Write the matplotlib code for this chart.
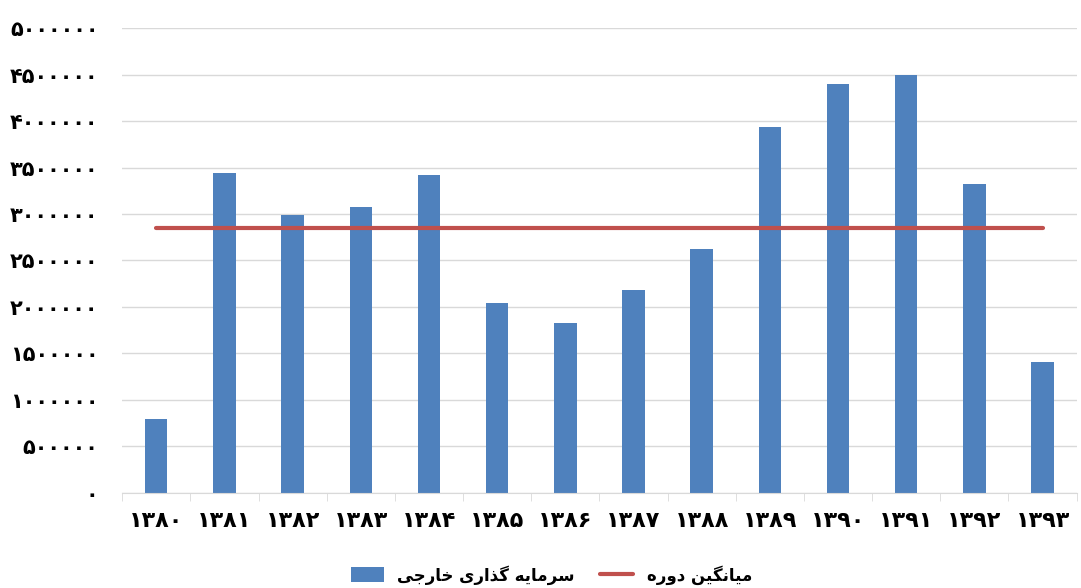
import matplotlib
matplotlib.use("Agg")
import matplotlib.pyplot as plt
import numpy as np
from matplotlib.ticker import FixedLocator, FuncFormatter

years = [1380, 1381, 1382, 1383, 1384, 1385, 1386,
         1387, 1388, 1389, 1390, 1391, 1392, 1393]
investment = [796000, 3441000, 2989000, 3080000, 3419000, 2043000, 1828000,
              2180000, 2624000, 3940000, 4395000, 4495000, 3327000, 1409000]
y_ticks = [0, 500000, 1000000, 1500000, 2000000, 2500000,
           3000000, 3500000, 4000000, 4500000, 5000000]
bar_label = "سرمایه گذاری خارجی"
mean_label = "میانگین دوره"

BAR_COLOR = "#4F81BD"
MEAN_COLOR = "#C0504D"
GRID_COLOR = "#D9D9D9"

FA_DIGITS = str.maketrans("0123456789", "۰۱۲۳۴۵۶۷۸۹")

# presentation forms: (isolated, final, initial, medial); None = no left join
FORMS = {
    "ا": ("\uFE8D", "\uFE8E", None, None),
    "ج": ("\uFE9D", "\uFE9E", "\uFE9F", "\uFEA0"),
    "خ": ("\uFEA5", "\uFEA6", "\uFEA7", "\uFEA8"),
    "د": ("\uFEA9", "\uFEAA", None, None),
    "ذ": ("\uFEAB", "\uFEAC", None, None),
    "ر": ("\uFEAD", "\uFEAE", None, None),
    "س": ("\uFEB1", "\uFEB2", "\uFEB3", "\uFEB4"),
    "گ": ("\uFB92", "\uFB93", "\uFB94", "\uFB95"),
    "م": ("\uFEE1", "\uFEE2", "\uFEE3", "\uFEE4"),
    "ن": ("\uFEE5", "\uFEE6", "\uFEE7", "\uFEE8"),
    "ه": ("\uFEE9", "\uFEEA", "\uFEEB", "\uFEEC"),
    "و": ("\uFEED", "\uFEEE", None, None),
    "ی": ("\uFBFC", "\uFBFD", "\uFBFE", "\uFBFF"),
}


def shape_fa(text):
    """Join Persian letters and put them in visual (right-to-left) order."""
    out = []
    for i, ch in enumerate(text):
        if ch not in FORMS:
            out.append(ch)
            continue
        prev = text[i - 1] if i > 0 else ""
        nxt = text[i + 1] if i + 1 < len(text) else ""
        joins_prev = prev in FORMS and FORMS[prev][2] is not None
        joins_next = nxt in FORMS and FORMS[ch][2] is not None
        isol, fin, init, med = FORMS[ch]
        if joins_prev and joins_next:
            out.append(med)
        elif joins_prev:
            out.append(fin)
        elif joins_next:
            out.append(init)
        else:
            out.append(isol)
    return "".join(reversed(out))


def fa_num(v):
    return str(int(v)).translate(FA_DIGITS)


plt.rcParams["font.family"] = ["DejaVu Sans"]
plt.rcParams["font.weight"] = "bold"

x = np.arange(len(years))
period_mean = np.mean(investment)

fig = plt.figure(figsize=(10.81, 5.88), dpi=100)
ax = fig.add_axes([0.113, 0.162, 0.883, 0.79])

bars = ax.bar(x, investment, width=0.33, color=BAR_COLOR, zorder=2)
mean_line, = ax.plot([x[0], x[-1]], [period_mean, period_mean],
                     color=MEAN_COLOR, lw=3, solid_capstyle="round", zorder=3)

ax.set_xlim(-0.5, len(years) - 0.5)
ax.set_ylim(0, 5000000)
ax.set_yticks(y_ticks)
ax.yaxis.set_major_formatter(FuncFormatter(lambda v, _: fa_num(v)))
ax.set_xticks(x)
ax.set_xticklabels([fa_num(y) for y in years])
ax.xaxis.set_minor_locator(FixedLocator(np.arange(-0.5, len(years), 1.0)))

ax.grid(axis="y", color=GRID_COLOR, lw=1, zorder=0)
for side in ("left", "right", "top"):
    ax.spines[side].set_visible(False)
ax.spines["bottom"].set_color(GRID_COLOR)
ax.tick_params(axis="y", length=0, pad=17, labelsize=15)
ax.tick_params(axis="x", which="major", length=0, pad=13, labelsize=16)
ax.tick_params(axis="x", which="minor", length=6, color=GRID_COLOR)

fig.legend([bars, mean_line], [shape_fa(bar_label), shape_fa(mean_label)],
           loc="lower center", ncol=2, frameon=False, fontsize=12,
           bbox_to_anchor=(0.51, -0.02), handlelength=2.0, handleheight=1.0,
           columnspacing=1.5)

plt.savefig("out.png", dpi=100)
plt.close()
